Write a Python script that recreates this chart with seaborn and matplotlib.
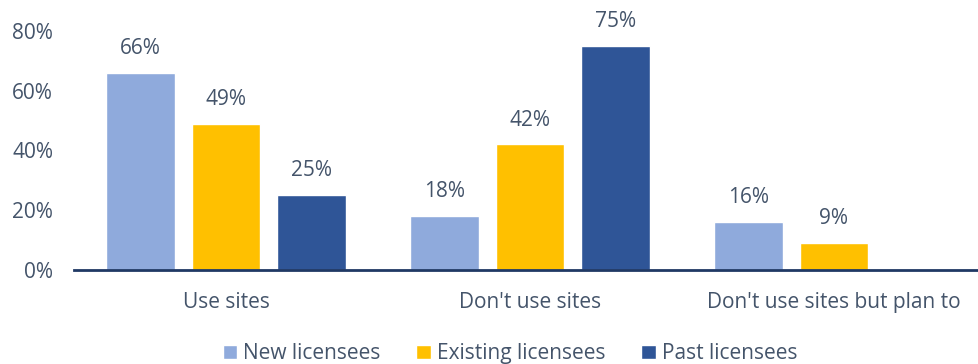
import matplotlib
matplotlib.use("Agg")
import matplotlib.pyplot as plt
import seaborn as sns
import pandas as pd

categories = ["Use sites", "Don't use sites", "Don't use sites but plan to"]
series = ["New licensees", "Existing licensees", "Past licensees"]
new_vals = [66, 18, 16]
existing_vals = [49, 42, 9]
past_vals = [25, 75, 0]
yticks = [0, 20, 40, 60, 80]
colors = ["#8FAADC", "#FFC000", "#2F5597"]

rows = []
for s, vals in zip(series, [new_vals, existing_vals, past_vals]):
    for c, v in zip(categories, vals):
        rows.append({"cat": c, "series": s, "val": v})
df = pd.DataFrame(rows)

sns.set_theme(style="white")
plt.rcParams["font.family"] = ["Open Sans", "DejaVu Sans"]
tc = "#44546A"
fs = 15

fig = plt.figure(figsize=(9.79, 3.64), dpi=100)
ax = fig.add_axes([74 / 979, 94 / 364, 912 / 979, 263 / 364])
sns.barplot(data=df, x="cat", y="val", hue="series", palette=colors,
            width=0.845, gap=0.2, ax=ax, legend=True, saturation=1)

for cont in ax.containers:
    labels = [f"{v:.0f}%" if v > 0 else "" for v in cont.datavalues]
    ax.bar_label(cont, labels=labels, padding=10, fontsize=fs, color=tc)

ax.set_ylim(0, 88)
ax.set_xlim(-0.5, 2.5)
ax.set_yticks(yticks)
ax.set_yticklabels([f"{t}%" for t in yticks], fontsize=fs, color=tc)
ax.tick_params(axis="y", length=0, pad=15)
ax.tick_params(axis="x", length=0, pad=16, labelsize=fs, labelcolor=tc)
ax.set_xlabel("")
ax.set_ylabel("")
for s in ["top", "right", "left"]:
    ax.spines[s].set_visible(False)
ax.spines["bottom"].set_color("#1F3864")
ax.spines["bottom"].set_linewidth(2)

ax.legend(loc="lower center", bbox_to_anchor=(0.478, -0.39), ncol=3, frameon=False,
          fontsize=fs, handlelength=0.7, handleheight=0.7, handletextpad=0.3,
          columnspacing=1.7, labelcolor=tc, borderaxespad=0)

fig.savefig("out.png", dpi=100)
